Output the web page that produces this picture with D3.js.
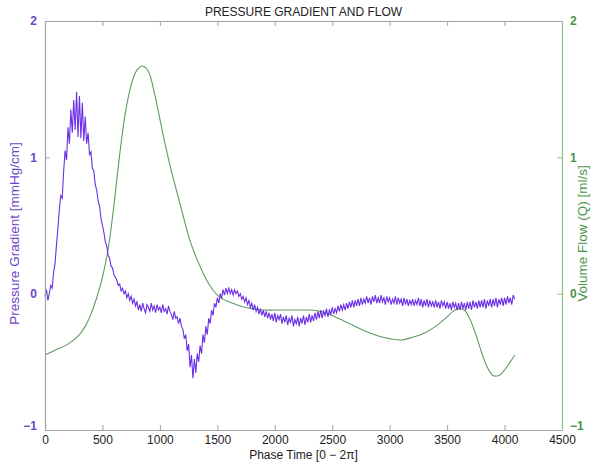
<!DOCTYPE html>
<html>
<head>
<meta charset="utf-8">
<script src="https://cdn.jsdelivr.net/npm/d3@7"></script>
<style>
  body { margin: 0; background: #fff; }
  svg { display: block; }
  text { font-family: "Liberation Sans", Arial, Helvetica, sans-serif; }
</style>
</head>
<body>
<svg id="chart" width="600" height="464"></svg>
<script>
// ---- Data ----
const title = "PRESSURE GRADIENT AND FLOW";
const xLabel = "Phase Time [0 \u2212 2\u03C0]";
const yLeftLabel = "Pressure Gradient [mmHg/cm]";
const yRightLabel = "Volume Flow (Q) [ml/s]";

const xTicks = [0, 500, 1000, 1500, 2000, 2500, 3000, 3500, 4000, 4500];
const yTicks = [-1, 0, 1, 2];

// Pressure gradient samples, every 12.5 time units from 0 (8 per 100 units)
const pressureTime = d3.range(0, 4100, 12.5);
const pressureValues = [
  -0.02, 0.03, -0.05, 0.00, 0.06, 0.04, 0.16, 0.22,       // 0
  0.36, 0.48, 0.62, 0.72, 0.70, 0.90, 1.05, 0.98,         // 100
  1.22, 1.10, 1.35, 1.18, 1.42, 1.20, 1.48, 1.15,         // 200
  1.45, 1.14, 1.40, 1.12, 1.30, 1.10, 1.18, 1.02,         // 300
  1.04, 0.92, 0.90, 0.80, 0.76, 0.68, 0.64, 0.55,         // 400
  0.50, 0.45, 0.38, 0.35, 0.28, 0.26, 0.20, 0.19,         // 500
  0.14, 0.12, 0.10, 0.06, 0.07, 0.02, 0.04, 0.00,         // 600
  0.02, -0.03, 0.00, -0.05, -0.02, -0.07, -0.04, -0.09,   // 700
  -0.06, -0.12, -0.08, -0.13, -0.07, -0.11, -0.14, -0.08, // 800
  -0.10, -0.13, -0.07, -0.12, -0.09, -0.14, -0.08, -0.12, // 900
  -0.10, -0.14, -0.08, -0.13, -0.11, -0.15, -0.09, -0.13, // 1000
  -0.15, -0.19, -0.13, -0.18, -0.17, -0.22, -0.18, -0.24, // 1100
  -0.26, -0.33, -0.30, -0.42, -0.37, -0.54, -0.45, -0.62, // 1200
  -0.48, -0.58, -0.44, -0.50, -0.38, -0.44, -0.30, -0.36, // 1300
  -0.24, -0.30, -0.18, -0.22, -0.12, -0.16, -0.07, -0.10, // 1400
  -0.03, -0.07, 0.00, -0.03, 0.03, -0.01, 0.04, 0.00,     // 1500
  0.04, 0.00, 0.03, -0.01, 0.03, 0.00, 0.02, -0.02,       // 1600
  0.00, -0.04, -0.02, -0.06, -0.03, -0.08, -0.05, -0.10,  // 1700
  -0.07, -0.12, -0.08, -0.13, -0.10, -0.15, -0.11, -0.16, // 1800
  -0.12, -0.17, -0.13, -0.18, -0.14, -0.19, -0.15, -0.20, // 1900
  -0.14, -0.21, -0.16, -0.19, -0.15, -0.22, -0.17, -0.21, // 2000
  -0.16, -0.23, -0.18, -0.21, -0.16, -0.24, -0.19, -0.22, // 2100
  -0.17, -0.24, -0.18, -0.22, -0.16, -0.23, -0.17, -0.21, // 2200
  -0.15, -0.21, -0.16, -0.20, -0.14, -0.19, -0.13, -0.18, // 2300
  -0.12, -0.18, -0.13, -0.16, -0.11, -0.17, -0.12, -0.15, // 2400
  -0.10, -0.15, -0.11, -0.14, -0.09, -0.13, -0.08, -0.12, // 2500
  -0.08, -0.12, -0.07, -0.11, -0.06, -0.10, -0.05, -0.10, // 2600
  -0.05, -0.09, -0.04, -0.09, -0.03, -0.08, -0.04, -0.07, // 2700
  -0.02, -0.07, -0.03, -0.08, -0.02, -0.06, -0.01, -0.07, // 2800
  -0.03, -0.07, -0.01, -0.06, -0.03, -0.08, -0.02, -0.06, // 2900
  -0.03, -0.08, -0.04, -0.07, -0.02, -0.08, -0.03, -0.07, // 3000
  -0.04, -0.09, -0.03, -0.08, -0.04, -0.09, -0.05, -0.08, // 3100
  -0.04, -0.09, -0.05, -0.08, -0.03, -0.09, -0.04, -0.10, // 3200
  -0.05, -0.09, -0.04, -0.10, -0.05, -0.09, -0.06, -0.10, // 3300
  -0.05, -0.10, -0.06, -0.11, -0.05, -0.09, -0.06, -0.11, // 3400
  -0.06, -0.11, -0.07, -0.12, -0.06, -0.10, -0.07, -0.12, // 3500
  -0.07, -0.12, -0.06, -0.11, -0.07, -0.12, -0.06, -0.11, // 3600
  -0.06, -0.12, -0.05, -0.10, -0.06, -0.11, -0.05, -0.10, // 3700
  -0.05, -0.10, -0.04, -0.11, -0.05, -0.09, -0.04, -0.10, // 3800
  -0.04, -0.09, -0.03, -0.10, -0.04, -0.08, -0.03, -0.09, // 3900
  -0.03, -0.08, -0.02, -0.07, -0.03, -0.08, -0.01, -0.04  // 4000
];

// Volume flow
const flowTime = [
  0, 100, 200, 300, 350, 400, 450, 500, 550, 600, 650, 700, 750, 800, 850, 900,
  950, 1000, 1050, 1100, 1150, 1200, 1250, 1300, 1350, 1400, 1450, 1500, 1550,
  1600, 1700, 1800, 1900, 2000, 2100, 2200, 2300, 2400, 2500, 2600, 2700, 2800,
  2900, 3000, 3100, 3200, 3300, 3400, 3500, 3550, 3600, 3650, 3700, 3750, 3800,
  3850, 3900, 3950, 4000, 4050, 4090
];
const flowValues = [
  -0.45, -0.41, -0.37, -0.30, -0.24, -0.15, -0.03, 0.12, 0.33, 0.65, 1.02, 1.33,
  1.53, 1.64, 1.67, 1.63, 1.48, 1.28, 1.08, 0.90, 0.74, 0.58, 0.42, 0.30, 0.20,
  0.11, 0.04, -0.01, -0.04, -0.06, -0.09, -0.11, -0.12, -0.12, -0.12, -0.12,
  -0.12, -0.13, -0.16, -0.20, -0.24, -0.28, -0.31, -0.33, -0.34, -0.32, -0.29,
  -0.24, -0.17, -0.13, -0.11, -0.12, -0.19, -0.30, -0.43, -0.54, -0.60, -0.60,
  -0.56, -0.50, -0.45
];

// ---- Layout ----
const W = 600, H = 464;
const m = { left: 45, right: 38, top: 21, bottom: 34 };
const pw = W - m.left - m.right, ph = H - m.top - m.bottom;

const purple = "#6a2ee6";
const purpleText = "#6a46c8";
const green = "#5e9b5e";
const greenText = "#4a944a";
const gray = "#a0a0a8";

const svg = d3.select("#chart");
const g = svg.append("g").attr("transform", `translate(${m.left},${m.top})`);

const x = d3.scaleLinear().domain([0, 4500]).range([0, pw]);
const yL = d3.scaleLinear().domain([-1, 2]).range([ph, 0]);
const yR = d3.scaleLinear().domain([-1, 2]).range([ph, 0]);

// ---- Lines ----
const pData = pressureTime.map((t, i) => [t, pressureValues[i]]);
const fData = flowTime.map((t, i) => [t, flowValues[i]]);

g.append("path")
  .datum(fData)
  .attr("fill", "none")
  .attr("stroke", green)
  .attr("stroke-width", 1.1)
  .attr("d", d3.line().x(d => x(d[0])).y(d => yR(d[1])).curve(d3.curveCatmullRom));

g.append("path")
  .datum(pData)
  .attr("fill", "none")
  .attr("stroke", purple)
  .attr("stroke-width", 1.1)
  .attr("d", d3.line().x(d => x(d[0])).y(d => yL(d[1])));

// ---- Axes ----
function style(sel, lineColor, textColor) {
  sel.select(".domain").attr("stroke", lineColor).attr("stroke-width", 1.2);
  sel.selectAll(".tick line").attr("stroke", lineColor);
  sel.selectAll(".tick text").attr("fill", textColor).style("font-size", "12px")
    .style("font-family", '"Liberation Sans", Arial, sans-serif');
}

const fmt = d => d < 0 ? "\u2212" + Math.abs(d) : String(d);

const xAxisB = g.append("g").attr("transform", `translate(0,${ph})`)
  .call(d3.axisBottom(x).tickValues(xTicks).tickFormat(d3.format("d"))
    .tickSizeInner(-5).tickSizeOuter(0).tickPadding(5));
style(xAxisB, gray, "#222");
xAxisB.selectAll(".tick").filter(d => d === 0 || d === 4500).select("line").remove();

const xAxisT = g.append("g")
  .call(d3.axisTop(x).tickValues(xTicks.slice(1, -1)).tickFormat("")
    .tickSizeInner(-5).tickSizeOuter(0));
style(xAxisT, gray, "#222");

const yAxisL = g.append("g")
  .call(d3.axisLeft(yL).tickValues(yTicks).tickFormat(fmt)
    .tickSizeInner(-5).tickSizeOuter(0).tickPadding(8));
style(yAxisL, gray, purpleText);
yAxisL.selectAll(".tick").filter(d => d === -1 || d === 2).select("line").remove();
yAxisL.selectAll(".tick text").style("font-weight", "bold");

const yAxisR = g.append("g").attr("transform", `translate(${pw},0)`)
  .call(d3.axisRight(yR).tickValues(yTicks).tickFormat(fmt)
    .tickSizeInner(-5).tickSizeOuter(0).tickPadding(8));
style(yAxisR, "#8fbf8f", greenText);
yAxisR.selectAll(".tick").filter(d => d === -1 || d === 2).select("line").remove();
yAxisR.selectAll(".tick text").style("font-weight", "bold");

// lift the bottom "−1" labels slightly so they sit above the x tick labels
[yAxisL, yAxisR].forEach(a => a.selectAll(".tick").filter(d => d === -1)
  .select("text").attr("y", -4));

// ---- Labels ----
svg.append("text").attr("x", m.left + pw / 2).attr("y", 16)
  .attr("text-anchor", "middle").attr("fill", "#222").style("font-size", "12px")
  .text(title);

svg.append("text").attr("x", m.left + pw / 2).attr("y", 459)
  .attr("text-anchor", "middle").attr("fill", "#222").style("font-size", "12px")
  .text(xLabel);

svg.append("text")
  .attr("transform", `translate(19,${m.top + ph / 2 + 8}) rotate(-90)`)
  .attr("text-anchor", "middle").attr("fill", purpleText).style("font-size", "13.5px")
  .text(yLeftLabel);

svg.append("text")
  .attr("transform", `translate(587,${m.top + ph / 2 + 8}) rotate(-90)`)
  .attr("text-anchor", "middle").attr("fill", greenText).style("font-size", "13.5px")
  .text(yRightLabel);
</script>
</body>
</html>
